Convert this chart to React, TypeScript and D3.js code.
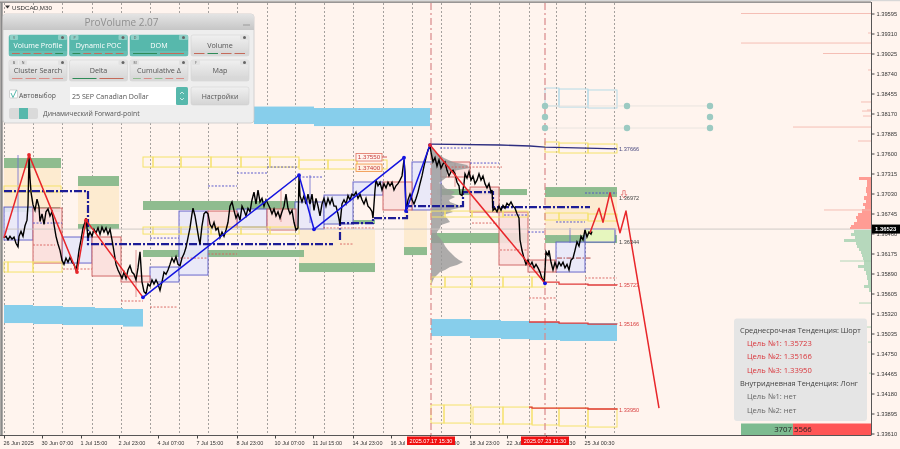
import React, { useEffect, useRef } from "react";
import * as d3 from "d3";

type Pt = [number, number];
type Box = [number, number, number, number]; // slot start, slot end, price top, price bottom
type Level = [number, number, number]; // slot start, slot end, price

// price axis
const priceTicks = [1.39595, 1.3931, 1.39025, 1.3874, 1.38455, 1.3817, 1.37885, 1.376, 1.37315, 1.3703, 1.36745, 1.3646, 1.36175, 1.3589, 1.35605, 1.3532, 1.35035, 1.3475, 1.34465, 1.3418, 1.33895, 1.3361];

// one slot = one column of the compressed M30 chart
const dayStarts = [0, 29, 58, 88, 117, 146, 175, 204, 233, 263, 291, 320, 349, 379, 408, 437, 466, 495, 525, 552, 581, 610];
const timeSlots = [0, 38, 77, 115, 154, 193, 233, 271, 309, 349, 387, 426, 466, 503, 542, 581];
const timeLabels = ["26 Jun 2025", "30 Jun 07:00", "1 Jul 15:00", "2 Jul 23:00", "4 Jul 07:00", "7 Jul 15:00", "8 Jul 23:00", "10 Jul 07:00", "11 Jul 15:00", "14 Jul 23:00", "16 Jul 07:00", "17 Jul 15:00", "18 Jul 23:00", "22 Jul 07:00", "23 Jul 15:30", "25 Jul 00:30"];

const closes: Pt[] = [
  [0,1.3640],[2,1.3642],[4,1.3637],[6,1.3642],[8,1.3638],[10,1.3641],[12,1.3632],[14,1.3627],[15,1.3642],[17,1.3649],[19,1.3642],[21,1.3657],[23,1.3665],[24,1.3687],[25,1.3756],[26,1.3725],[27,1.3705],[29,1.3687],[31,1.3679],[33,1.3695],[35,1.3684],[36,1.3663],[38,1.3674],[40,1.3659],[42,1.3677],[44,1.3681],[46,1.3671],[48,1.3677],[50,1.3659],[52,1.3642],[54,1.3631],[56,1.3622],[58,1.3608],[60,1.3602],[62,1.3611],[64,1.3605],[66,1.3612],[68,1.3605],[70,1.3602],[72,1.3594],[73,1.3600],[75,1.3622],[77,1.3637],[79,1.3654],[81,1.3662],[82,1.3668],[84,1.3640],[86,1.3648],[88,1.3642],[90,1.3652],[92,1.3647],[94,1.3654],[96,1.3645],[98,1.3655],[100,1.3648],[102,1.3654],[104,1.3645],[106,1.3652],[108,1.3637],[110,1.3620],[112,1.3602],[114,1.3594],[116,1.3588],[118,1.3582],[120,1.3591],[122,1.3582],[124,1.3594],[126,1.3600],[128,1.3591],[130,1.3588],[132,1.3580],[134,1.3597],[136,1.3620],[138,1.3577],[140,1.3563],[142,1.3560],[144,1.3574],[146,1.3571],[148,1.3580],[150,1.3574],[152,1.3580],[154,1.3574],[156,1.3565],[158,1.3577],[160,1.3591],[162,1.3588],[164,1.3594],[166,1.3602],[168,1.3611],[170,1.3605],[172,1.3613],[174,1.3602],[176,1.3600],[178,1.3611],[180,1.3617],[182,1.3626],[184,1.3640],[186,1.3654],[188,1.3674],[189,1.3682],[191,1.3671],[193,1.3654],[195,1.3637],[196,1.3631],[198,1.3657],[200,1.3674],[202,1.3677],[204,1.3674],[206,1.3659],[208,1.3654],[210,1.3662],[212,1.3651],[214,1.3654],[216,1.3640],[218,1.3648],[220,1.3642],[222,1.3651],[224,1.3662],[226,1.3685],[228,1.3691],[230,1.3679],[232,1.3668],[234,1.3674],[236,1.3665],[238,1.3685],[240,1.3679],[242,1.3671],[244,1.3682],[246,1.3677],[248,1.3694],[250,1.3705],[252,1.3688],[254,1.3708],[256,1.3691],[258,1.3696],[260,1.3685],[262,1.3694],[264,1.3688],[266,1.3682],[268,1.3674],[270,1.3681],[272,1.3671],[274,1.3677],[276,1.3668],[278,1.3677],[280,1.3685],[282,1.3702],[284,1.3682],[286,1.3674],[288,1.3679],[290,1.3662],[292,1.3651],[294,1.3654],[295,1.3728],[296,1.3700],[298,1.3691],[300,1.3700],[302,1.3688],[304,1.3702],[306,1.3688],[308,1.3702],[310,1.3679],[312,1.3696],[314,1.3685],[316,1.3671],[318,1.3688],[320,1.3696],[322,1.3685],[324,1.3696],[326,1.3688],[328,1.3696],[330,1.3685],[332,1.3685],[334,1.3674],[336,1.3659],[338,1.3688],[340,1.3694],[342,1.3688],[344,1.3700],[346,1.3694],[348,1.3702],[350,1.3700],[352,1.3705],[354,1.3696],[356,1.3702],[358,1.3694],[360,1.3688],[362,1.3696],[364,1.3685],[366,1.3682],[368,1.3677],[369,1.3668],[371,1.3708],[372,1.3722],[374,1.3714],[376,1.3719],[378,1.3708],[380,1.3717],[382,1.3711],[384,1.3719],[386,1.3714],[388,1.3719],[390,1.3708],[392,1.3714],[394,1.3717],[396,1.3722],[398,1.3728],[400,1.3751],[401,1.3734],[402,1.3677],[404,1.3694],[406,1.3702],[408,1.3694],[410,1.3688],[412,1.3696],[414,1.3705],[416,1.3717],[418,1.3728],[420,1.3742],[422,1.3754],[424,1.3765],[426,1.3771],[427,1.3762],[429,1.3748],[431,1.3754],[433,1.3742],[435,1.3751],[437,1.3739],[439,1.3745],[441,1.3748],[443,1.3736],[445,1.3728],[447,1.3734],[449,1.3736],[451,1.3731],[453,1.3719],[455,1.3714],[456,1.3702],[458,1.3700],[460,1.3717],[461,1.3731],[463,1.3725],[465,1.3734],[467,1.3722],[469,1.3728],[471,1.3717],[473,1.3722],[475,1.3731],[477,1.3722],[479,1.3728],[481,1.3717],[483,1.3711],[485,1.3717],[487,1.3705],[488,1.3708],[489,1.3679],[491,1.3682],[493,1.3677],[495,1.3685],[497,1.3679],[499,1.3686],[501,1.3682],[503,1.3689],[505,1.3686],[507,1.3691],[509,1.3685],[511,1.3682],[513,1.3674],[515,1.3668],[516,1.3637],[518,1.3622],[520,1.3611],[522,1.3602],[524,1.3608],[526,1.3600],[528,1.3605],[530,1.3597],[532,1.3602],[534,1.3597],[536,1.3591],[538,1.3582],[540,1.3577],[541,1.3594],[542,1.3620],[544,1.3615],[545,1.3622],[547,1.3605],[549,1.3594],[551,1.3605],[553,1.3597],[555,1.3605],[557,1.3600],[559,1.3605],[561,1.3597],[563,1.3602],[565,1.3594],[567,1.3608],[569,1.3611],[571,1.3622],[573,1.3634],[575,1.3628],[577,1.3642],[579,1.3637],[581,1.3651],[583,1.3641],[585,1.3648],[587,1.3645],[588,1.3649],
];

// zigzag swings
const redSwingsA: Pt[] = [[0,1.3640],[25,1.3758],[73,1.3591],[82,1.3665],[139,1.3555]];
const blueSwings: Pt[] = [[139,1.3555],[295,1.3729],[310,1.3652],[400,1.3754],[402,1.3678],[426,1.3772]];
const redSwingsB: Pt[] = [[426,1.3772],[541,1.3575]];
const forecast: Pt[] = [[586,1.3647],[595,1.3682],[599,1.3662],[606,1.3704],[616,1.3647],[622,1.3678],[655,1.3397]];

// zones
const skyZones: Box[] = [
  [0,29,1.35441,1.35184],[29,59,1.35427,1.3517],[59,91,1.35412,1.35156],[91,119,1.35398,1.35156],[119,139,1.35384,1.35134],
  [250,310,1.38269,1.3802],[310,426,1.38248,1.37991],
  [427,466,1.35241,1.34999],[466,497,1.35227,1.34971],[497,526,1.35213,1.34956],[526,556,1.35199,1.34942],[556,586,1.35184,1.34928],[586,613,1.35184,1.34928],
];
const tanZones: Box[] = [[0,57,1.37393,1.36837],[74,115,1.37137,1.36595],[295,371,1.3651,1.36039],[400,423,1.36795,1.36267],[541,613,1.3698,1.36438]];
const greenZones: Box[] = [
  [0,57,1.37536,1.37393],[74,115,1.37279,1.37137],[139,294,1.36923,1.36795],[139,300,1.36225,1.36125],[0,56,1.36837,1.36766],[74,115,1.36595,1.36524],
  [295,371,1.36039,1.35911],[323,371,1.36652,1.36595],[400,423,1.36267,1.36153],[427,523,1.36467,1.36324],[433,523,1.37094,1.37008],[541,613,1.37122,1.3698],[541,613,1.36438,1.36324],
];
const yellowBoxes: Box[] = [
  [139,149,1.3755,1.37407],[149,177,1.3755,1.37407],[177,207,1.3755,1.37407],[207,237,1.3755,1.37407],[237,266,1.3755,1.37407],[266,295,1.3755,1.37407],[295,324,1.37507,1.37379],[324,353,1.37507,1.37379],[353,383,1.37507,1.37379],
  [139,149,1.36552,1.36452],[149,177,1.36552,1.36452],[177,207,1.36552,1.36452],[207,237,1.36552,1.36452],[237,266,1.36552,1.36452],[266,295,1.36552,1.36452],
  [0,4,1.36054,1.35911],[4,29,1.36054,1.35911],[29,58,1.36054,1.35911],[0,57,1.37137,1.37051],
  [427,441,1.3584,1.35697],[441,468,1.3584,1.35697],[468,499,1.3584,1.35697],[499,528,1.3584,1.35697],[528,541,1.3584,1.35697],
  [427,441,1.3678,1.36695],[441,468,1.3678,1.36695],[468,499,1.3678,1.36695],[499,524,1.3678,1.36695],
  [541,555,1.37764,1.37621],[555,584,1.37749,1.37607],[584,613,1.37735,1.37607],
  [541,555,1.36752,1.36652],[555,584,1.36752,1.36652],[584,613,1.36738,1.36638],
  [427,440,1.34016,1.33759],[440,467,1.34016,1.33759],[469,499,1.33987,1.33745],[499,528,1.33987,1.33745],[528,555,1.33973,1.33731],[555,584,1.33973,1.33717],[584,613,1.33959,1.33702],
];
const skyBoxes: Box[] = [[541,555,1.38533,1.38277],[555,584,1.38519,1.38262],[584,613,1.38505,1.38248]];

// daily bodies
const blueBodies: Box[] = [[0,29,1.36837,1.36367],[58,88,1.3641,1.36039],[146,175,1.35982,1.35769],[175,204,1.3678,1.35868],[233,263,1.36809,1.36552],[291,320,1.36909,1.36524],[320,349,1.37008,1.36595],[349,379,1.37194,1.37008],[408,437,1.37479,1.36795],[552,581,1.36338,1.35911]];
const redBodies: Box[] = [[29,58,1.36823,1.36039],[88,117,1.3641,1.35854],[117,146,1.35854,1.35769],[204,233,1.3678,1.36552],[263,292,1.36809,1.3651],[379,408,1.37194,1.36795],[437,466,1.37479,1.37265],[466,495,1.37122,1.36766],[495,524,1.36766,1.36011],[524,552,1.36082,1.35911]];
const limeBodies: Box[] = [[581,611,1.36524,1.36338]];
const blueWicks: Pt[][] = [[[14,1.37578],[14,1.36267]],[[306,1.37293],[306,1.36609]],[[566,1.36538],[566,1.36325]]];
const redWicks: Pt[][] = [[[132,1.36225],[132,1.35555]],[[277,1.3708],[277,1.36624]],[[451,1.37465],[451,1.37125]]];

// pivots
const bluePivots: Level[] = [[29,58,1.36609],[146,175,1.36395],[204,233,1.37137],[233,263,1.37322],[263,294,1.37407],[295,319,1.37265],[466,495,1.37464],[500,523,1.36723],[552,581,1.36624],[581,613,1.37037],[524,541,1.36481],[436,466,1.37678]];
const redPivots: Level[] = [[29,51,1.36296],[59,88,1.35954],[117,139,1.35498],[146,174,1.35412],[176,203,1.3611],[204,233,1.36168],[319,371,1.36538],[437,498,1.37407],[468,493,1.36609],[496,523,1.36225],[525,552,1.35541],[581,613,1.35826],[336,349,1.3631]];
const darkRedPivots: Level[] = [[553,588,1.3611]];

// POC
const pocA: Pt[] = [[0,1.37065],[84,1.37065],[84,1.3631],[329,1.3631]];
const pocB: Pt[] = [[336,1.36367],[336,1.36609],[369,1.36609],[369,1.3668],[403,1.3668],[403,1.36851],[459,1.36851],[459,1.37051],[489,1.37051],[489,1.36837],[586,1.36837]];
const resistanceLine: Pt[] = [[427,1.37735],[496,1.37721],[526,1.37707],[541,1.37692],[613,1.37666]];

// targets
const target1: Pt[] = [[541,1.35768],[555,1.3574],[584,1.35726],[613,1.35723]];
const target2: Pt[] = [[525,1.35199],[555,1.35184],[584,1.3517],[613,1.35166]];
const target3: Pt[] = [[525,1.33987],[528,1.33973],[584,1.33959],[613,1.3395]];

const forwardSlots = [541, 623, 706];
const forwardPrices = [1.38277, 1.3812, 1.37963];

// volume profile of the marked range [price, volume]
const centerProfile: Pt[] = [[1.37678,1],[1.37621,4],[1.37578,9],[1.37536,13],[1.37479,22],[1.37436,36],[1.37393,39],[1.37336,16],[1.37265,16],[1.37222,12],[1.37179,8],[1.37151,12],[1.37108,14],[1.37051,24],[1.37008,20],[1.3698,24],[1.36937,18],[1.36909,19],[1.36866,27],[1.36837,32],[1.36795,19],[1.36766,22],[1.36723,12],[1.3668,16],[1.36624,19],[1.36581,10],[1.36538,9],[1.36481,6],[1.36438,6],[1.36395,9],[1.36338,12],[1.36282,14],[1.36225,17],[1.36182,20],[1.36125,24],[1.36082,28],[1.36054,32],[1.36011,26],[1.35982,19],[1.3594,14],[1.35911,9],[1.35868,6],[1.35826,3],[1.35754,1]];

// right-hand market profile
const sellProfile: Pt[] = [[1.37265,3],[1.37222,12],[1.37179,4],[1.37122,4],[1.3708,5],[1.37037,5],[1.36994,4],[1.36937,7],[1.36894,5],[1.36851,8],[1.36809,6],[1.36752,9],[1.36709,13],[1.36666,15],[1.36624,14],[1.36581,17],[1.36552,20],[1.36524,21]];
const buyProfile: Pt[] = [[1.3651,25],[1.36467,17],[1.36424,20],[1.36381,16],[1.36338,27],[1.36296,15],[1.36253,14],[1.3621,12],[1.36168,10],[1.36125,9],[1.36082,8],[1.36011,7],[1.35968,13],[1.35925,7],[1.35868,5],[1.35797,4],[1.35726,3],[1.35683,7],[1.35626,2],[1.35569,0]];
const sellSpikes: Pt[] = [[1.39595,130],[1.39317,3],[1.39174,130],[1.39025,48],[1.3879,3],[1.38334,10],[1.3822,4],[1.38205,9],[1.38134,8],[1.37977,78],[1.37778,13],[1.36795,47]];
const buySpikes: Pt[] = [[1.36068,31],[1.35469,12],[1.35127,7],[1.34913,3],[1.3447,2]];

const currentPrice = 1.36523;
const buyVolume = 3707;
const sellVolume = 5566;

const UI_FONT = "'Open Sans', 'Noto Sans', sans-serif";
const AXIS_FONT = "'Liberation Sans', Arial, sans-serif";

const x = d3.scaleLinear().domain([0, 610]).range([4, 614]);
const y = d3.scaleLinear().domain([1.39595, 1.3361]).range([13.5, 433.5]);
const volX = d3.scaleLinear().domain([0, 130]).range([871, 741]);
const profX = d3.scaleLinear().domain([0, 39]).range([431, 470]);
const balance = d3.scaleLinear().domain([0, buyVolume + sellVolume]).range([741, 871]);

const line = d3.line<Pt>().x(d => x(d[0])).y(d => y(d[1]));
const stepLine = d3.line<Pt>().x(d => x(d[0])).y(d => y(d[1])).curve(d3.curveStepAfter);
const centerArea = d3.area<Pt>().y(d => y(d[0])).x0(profX(0)).x1(d => profX(d[1]));
const rightArea = d3.area<Pt>().y(d => y(d[0])).x0(volX(0)).x1(d => volX(d[1])).curve(d3.curveStepAfter);

function Boxes({ rows, fill = "none", stroke = "none", width = 1, opacity = 1 }: { rows: Box[]; fill?: string; stroke?: string; width?: number; opacity?: number }) {
  return (
    <g fill={fill} stroke={stroke} strokeWidth={width} opacity={opacity}>
      {rows.map((d, i) => (
        <rect key={i} x={x(d[0])} y={y(d[2])} width={x(d[1]) - x(d[0])} height={y(d[3]) - y(d[2])} />
      ))}
    </g>
  );
}

function Levels({ rows, stroke, dash = "2 1.5" }: { rows: Level[]; stroke: string; dash?: string }) {
  return (
    <g stroke={stroke} strokeWidth={0.9} strokeDasharray={dash}>
      {rows.map((d, i) => (
        <line key={i} x1={x(d[0])} x2={x(d[1])} y1={y(d[2])} y2={y(d[2])} />
      ))}
    </g>
  );
}

function Markers({ points, fill }: { points: Pt[]; fill: string }) {
  return (
    <g fill={fill}>
      {points.map((d, i) => (
        <circle key={i} cx={x(d[0])} cy={y(d[1])} r={1.9} />
      ))}
    </g>
  );
}

function PriceTag({ price, color, text }: { price: number; color: string; text: string }) {
  return (
    <text x={619} y={y(price) + 2} fontSize={5.6} fill={color} fontFamily={AXIS_FONT}>
      {text}
    </text>
  );
}

function PanelButton({ bx, by, label, on, tags, marks }: { bx: number; by: number; label: string; on?: boolean; tags: string[]; marks: string[] }) {
  const w = 58;
  const h = 21;
  return (
    <g>
      <rect x={bx} y={by} width={w} height={h} rx={2} fill={on ? "#57B8AC" : "url(#btnGrey)"} stroke={on ? "#57B8AC" : "#CFCFCF"} strokeWidth={0.5} />
      {tags.map((t, i) => (
        <g key={i}>
          <rect x={bx + 1 + i * 9} y={by} width={8} height={5} rx={1} fill={on ? "#8ED0C7" : "#E2E2E2"} />
          <text x={bx + 5 + i * 9} y={by + 4} fontSize={3.6} textAnchor="middle" fill="#555" fontFamily={UI_FONT}>{t}</text>
        </g>
      ))}
      <rect x={bx + w - 9} y={by} width={9} height={5} rx={1} fill={on ? "#8ED0C7" : "#E2E2E2"} />
      <circle cx={bx + w - 4.5} cy={by + 2.5} r={1.5} fill="#666" />
      <text x={bx + w / 2} y={by + 13} fontSize={7.2} textAnchor="middle" fill={on ? "#FFFFFF" : "#555"} fontFamily={UI_FONT}>{label}</text>
      <rect x={bx} y={by + h - 5} width={w} height={5} rx={1} fill={on ? "#68BFB4" : "#D8D8D8"} opacity={0.9} />
      {marks.map((c, i) => (
        <rect key={i} x={bx + 2 + (i * (w - 4)) / marks.length + 1} y={by + h - 3} width={(w - 4) / marks.length - 3} height={1} fill={c} />
      ))}
    </g>
  );
}

function ProVolumePanel() {
  return (
    <g>
      <rect x={3} y={14} width={251} height={109} rx={3} fill="#EEEEEE" stroke="#C9C9C9" strokeWidth={0.8} />
      <path d="M3,30V17a3,3 0 0 1 3,-3H251a3,3 0 0 1 3,3V30Z" fill="url(#headGrey)" />
      <text x={121.5} y={26} fontSize={10} textAnchor="middle" fill="#8F8F8F" fontFamily={UI_FONT}>ProVolume 2.07</text>
      <rect x={243} y={24.5} width={7} height={1} fill="#9A9A9A" />
      <PanelButton bx={9} by={35} label="Volume Profile" on tags={["V"]} marks={["#C46A5A", "#C46A5A", "#C46A5A", "#C46A5A", "#2E8B57"]} />
      <PanelButton bx={69.5} by={35} label="Dynamic POC" on tags={["P"]} marks={["#2E8B57", "#C46A5A", "#C46A5A", "#C46A5A", "#C46A5A"]} />
      <PanelButton bx={130} by={35} label="DOM" on tags={["D"]} marks={["#2E8B57", "#C46A5A"]} />
      <PanelButton bx={191} by={35} label="Volume" tags={[]} marks={["#C46A5A", "#2E8B57", "#C46A5A", "#C46A5A"]} />
      <PanelButton bx={9} by={60} label="Cluster Search" tags={["B", "N"]} marks={["#D98C86", "#D98C86", "#D98C86", "#D98C86"]} />
      <PanelButton bx={69.5} by={60} label="Delta" tags={[]} marks={["#2E8B57", "#C46A5A"]} />
      <PanelButton bx={130} by={60} label="Cumulative Δ" tags={["M"]} marks={["#8FBC8F", "#D98C86", "#8FBC8F", "#D98C86", "#D98C86"]} />
      <PanelButton bx={191} by={60} label="Map" tags={["F"]} marks={[]} />
      <rect x={9.5} y={90} width={8} height={8} rx={1} fill="#FFFFFF" stroke="#BBBBBB" strokeWidth={0.6} />
      <path d="M11,93L13,97.5L16.5,90" fill="none" stroke="#57B8AC" strokeWidth={1} />
      <text x={19} y={98} fontSize={6.8} fill="#555" fontFamily={UI_FONT}>Автовыбор</text>
      <rect x={70} y={87} width={106} height={18} fill="#FFFFFF" />
      <text x={72} y={98.5} fontSize={7.1} fill="#555" fontFamily={UI_FONT}>25 SEP Canadian Dollar</text>
      <rect x={176} y={87} width={12} height={18} rx={1.5} fill="#57B8AC" />
      <path d="M180,94l2,-2l2,2M180,98l2,2l2,-2" fill="none" stroke="#FFFFFF" strokeWidth={0.7} />
      <rect x={191} y={87} width={58} height={18} rx={2} fill="url(#btnGrey)" stroke="#CFCFCF" strokeWidth={0.5} />
      <text x={220} y={98.5} fontSize={7} textAnchor="middle" fill="#555" fontFamily={UI_FONT}>Настройки</text>
      <rect x={9} y={108} width={29} height={11} rx={2} fill="#DADADA" />
      <rect x={19} y={108} width={9} height={11} fill="#57B8AC" />
      <text x={43} y={116} fontSize={6.8} fill="#555" fontFamily={UI_FONT}>Динамический Forward-point</text>
    </g>
  );
}

function TrendBox() {
  const dark = "#444444";
  const red = "#D9343A";
  const grey = "#666666";
  return (
    <g fontFamily={UI_FONT} fontSize={7.35}>
      <rect x={734} y={318.5} width={133} height={102.5} rx={3} fill="#E5E5E5" />
      <text x={740} y={332.5} fill={dark}>Среднесрочная Тенденция: Шорт</text>
      <text x={747} y={346} fontSize={7.6} fill={red}>Цель №1: 1.35723</text>
      <text x={747} y={359} fontSize={7.6} fill={red}>Цель №2: 1.35166</text>
      <text x={747} y={372.5} fontSize={7.6} fill={red}>Цель №3: 1.33950</text>
      <text x={740} y={386} fill={dark}>Внутридневная Тенденция: Лонг</text>
      <text x={747} y={399} fontSize={7.6} fill={grey}>Цель №1: нет</text>
      <text x={747} y={412.5} fontSize={7.6} fill={grey}>Цель №2: нет</text>
    </g>
  );
}

export default function App() {
  const yAxisRef = useRef<SVGGElement | null>(null);
  const xAxisRef = useRef<SVGGElement | null>(null);

  useEffect(() => {
    const yAxis = d3.axisRight(y).tickValues(priceTicks).tickSize(3).tickPadding(2).tickFormat(d => (+d).toFixed(5));
    const yG = d3.select(yAxisRef.current);
    yG.call(yAxis as any);
    yG.selectAll("text").attr("font-size", 5.7).attr("font-family", AXIS_FONT).attr("fill", "#333");
    yG.selectAll("line").attr("stroke", "#444");
    yG.select(".domain").remove();

    const xAxis = d3.axisBottom(x).tickValues(timeSlots).tickSize(3).tickFormat((_, i) => timeLabels[i]);
    const xG = d3.select(xAxisRef.current);
    xG.call(xAxis as any);
    xG.selectAll("text").attr("font-size", 5.5).attr("font-family", AXIS_FONT).attr("fill", "#333").attr("text-anchor", "start").attr("y", 6).attr("dx", -1);
    xG.selectAll("line").attr("stroke", "#444");
    xG.select(".domain").remove();
  }, []);

  return (
    <svg width={900} height={449} style={{ position: "absolute", left: 0, top: 0, display: "block", filter: "blur(0.25px)" }} fontFamily={AXIS_FONT}>
      <defs>
        <linearGradient id="btnGrey" x1="0" y1="0" x2="0" y2="1">
          <stop offset="0" stopColor="#F0F0F0" />
          <stop offset="1" stopColor="#D4D4D4" />
        </linearGradient>
        <linearGradient id="headGrey" x1="0" y1="0" x2="0" y2="1">
          <stop offset="0" stopColor="#E4E4E4" />
          <stop offset="1" stopColor="#C6C6C6" />
        </linearGradient>
      </defs>
      <rect width={900} height={449} fill="#FFF4EE" />

      <g stroke="#666" strokeWidth={0.6} strokeDasharray="2 2">
        {dayStarts.map(d => (
          <line key={d} x1={x(d) + 0.5} x2={x(d) + 0.5} y1={3} y2={435} />
        ))}
      </g>

      <Boxes rows={skyZones} fill="#87CEEB" />
      <Boxes rows={tanZones} fill="#FDEBD0" />
      <Boxes rows={greenZones} fill="#8FBC8F" />

      <Boxes rows={blueBodies} fill="#E8E8FA" stroke="#5B5BC8" opacity={0.9} />
      <Boxes rows={redBodies} fill="#FBDFDD" stroke="#CD5C5C" opacity={0.9} />
      <Boxes rows={limeBodies} fill="#E6F6BE" stroke="#5B5BC8" />
      <g stroke="#6A6AD0" strokeWidth={0.8}>
        {blueWicks.map((d, i) => <path key={i} d={line(d) as string} />)}
      </g>
      <g stroke="#D88080" strokeWidth={0.8}>
        {redWicks.map((d, i) => <path key={i} d={line(d) as string} />)}
      </g>

      <path d={centerArea(centerProfile) as string} fill="#999" opacity={0.8} />

      <Boxes rows={yellowBoxes} stroke="#F5E26A" width={1} />
      <Boxes rows={skyBoxes} stroke="#ADD8E6" width={0.9} />

      <Levels rows={bluePivots} stroke="#4B4BC8" />
      <Levels rows={redPivots} stroke="#D8605C" />
      <Levels rows={darkRedPivots} stroke="#A83232" dash="5 1.5 1.5 1.5" />

      <g fill="none" stroke="#1C1C96" strokeWidth={2.2} strokeDasharray="8 2 2 2">
        <path d={line(pocA) as string} />
        <path d={line(pocB) as string} />
      </g>
      <path d={line(resistanceLine) as string} fill="none" stroke="#2E2E80" strokeWidth={1.3} />

      <g fill="none" stroke="#D9888A" strokeWidth={1.2} strokeDasharray="7 3 2 3">
        <line x1={x(427)} x2={x(427)} y1={3} y2={435} />
        <line x1={x(541)} x2={x(541)} y1={3} y2={435} />
      </g>

      <g fill="none" stroke="#E03A3A" strokeWidth={1.3}>
        <path d={stepLine(target1) as string} />
        <path d={stepLine(target2) as string} />
        <path d={stepLine(target3) as string} />
      </g>

      <line x1={3} x2={871} y1={y(currentPrice)} y2={y(currentPrice)} stroke="#C9C5C2" strokeWidth={0.9} />

      <path d={line(closes) as string} fill="none" stroke="#000" strokeWidth={1.4} />

      <g fill="none" strokeWidth={1.5} strokeLinejoin="round">
        <path d={line(redSwingsA) as string} stroke="#E8262A" />
        <path d={line(blueSwings) as string} stroke="#1414E0" />
        <path d={line(redSwingsB) as string} stroke="#E8262A" />
        <path d={line(forecast) as string} stroke="#E8262A" />
      </g>
      <Markers points={redSwingsA.slice(1, 4)} fill="#E8262A" />
      <Markers points={blueSwings} fill="#1414E0" />
      <Markers points={[redSwingsB[0]]} fill="#E8262A" />
      <Markers points={[redSwingsB[1]]} fill="#1414E0" />

      <g stroke="#E6E2DE" strokeWidth={0.9}>
        <line x1={x(forwardSlots[0])} x2={x(forwardSlots[2])} y1={y(forwardPrices[0])} y2={y(forwardPrices[0])} />
        <line x1={x(forwardSlots[0])} x2={x(forwardSlots[2])} y1={y(forwardPrices[2])} y2={y(forwardPrices[2])} />
      </g>
      <g fill="#9CCAC2">
        {forwardSlots.map(s => forwardPrices.map((p, i) =>
          s === forwardSlots[1] && i === 1 ? null : <circle key={`${s}-${i}`} cx={x(s)} cy={y(p)} r={3.2} />
        ))}
      </g>

      <g transform={`translate(${x(620)},${y(1.37015)})`} fill="none" stroke="#E06060" strokeWidth={0.7}>
        <path d="M-1.2,-4H1.2V0H2.8L0,3.5L-2.8,0H-1.2Z" />
      </g>

      <PriceTag price={1.37666} color="#4A4A80" text="1.37666" />
      <PriceTag price={1.36972} color="#444" text="1.36972" />
      <PriceTag price={1.36344} color="#444" text="1.36344" />
      <PriceTag price={1.35723} color="#D84040" text="1.35723" />
      <PriceTag price={1.35166} color="#D84040" text="1.35166" />
      <PriceTag price={1.3395} color="#D84040" text="1.33950" />

      <g fontSize={6.2} textAnchor="middle">
        <line x1={x(378)} x2={x(383)} y1={y(1.3755)} y2={y(1.3755)} stroke="#D86060" />
        <rect x={356} y={y(1.3755) - 3.5} width={26} height={7.5} fill="#FFF4EE" stroke="#E07060" strokeWidth={0.8} />
        <text x={369} y={y(1.3755) + 2.3} fill="#C84040">1.37550</text>
        <rect x={356} y={y(1.374) - 3.5} width={26} height={7.5} fill="#FFF0E0" stroke="#F09040" strokeWidth={0.8} />
        <text x={369} y={y(1.374) + 2.3} fill="#C84040">1.37400</text>
      </g>

      <path d={rightArea(sellProfile) as string} fill="#FF9C94" />
      <path d={rightArea(buyProfile) as string} fill="#B6D8BC" />
      <g stroke="#F4B8AE" strokeWidth={0.9}>
        {sellSpikes.map((d, i) => <line key={i} x1={volX(d[1])} x2={volX(0)} y1={y(d[0])} y2={y(d[0])} />)}
      </g>
      <g stroke="#A9D2B0" strokeWidth={0.9}>
        {buySpikes.map((d, i) => <line key={i} x1={volX(d[1])} x2={volX(0)} y1={y(d[0])} y2={y(d[0])} />)}
      </g>

      <TrendBox />
      <rect x={balance(0)} y={423.5} width={balance(buyVolume) - balance(0)} height={11.5} fill="#7DBB90" />
      <rect x={balance(buyVolume)} y={423.5} width={balance(buyVolume + sellVolume) - balance(buyVolume)} height={11.5} fill="#FF5555" />
      <text x={balance(buyVolume) - 1} y={432} fontSize={7.8} textAnchor="end" fill="#222" fontFamily={UI_FONT}>{buyVolume}</text>
      <text x={balance(buyVolume) + 1} y={432} fontSize={7.8} fill="#222" fontFamily={UI_FONT}>{sellVolume}</text>

      <rect x={0} y={0} width={900} height={1.2} fill="#D8D8D8" />
      <line x1={0} x2={871} y1={2.2} y2={2.2} stroke="#777" strokeWidth={1.2} />
      <line x1={1.5} x2={1.5} y1={2} y2={435} stroke="#8A8A8A" strokeWidth={2.4} />
      <line x1={871.5} x2={871.5} y1={2} y2={435} stroke="#444" strokeWidth={0.9} />
      <line x1={0} x2={871.5} y1={435.5} y2={435.5} stroke="#444" strokeWidth={0.9} />
      <g ref={yAxisRef} transform="translate(871.5,0)" />
      <g ref={xAxisRef} transform="translate(0,435.5)" />

      <path d="M5,5.5H10L7.5,8.5Z" fill="#333" />
      <text x={12} y={9.5} fontSize={6.2} fill="#333">USDCAD,M30</text>

      <ProVolumePanel />

      <rect x={872} y={y(currentPrice) - 4.5} width={28} height={9} fill="#000" />
      <text x={875} y={y(currentPrice) + 2.2} fontSize={5.9} fontWeight="bold" fill="#FFF">{currentPrice.toFixed(5)}</text>

      <g fontSize={5.5} fill="#FFF" textAnchor="middle">
        <rect x={407} y={436.5} width={48} height={8.5} fill="#F01010" />
        <text x={431} y={443}>2025.07.17 15:30</text>
        <rect x={521} y={436.5} width={48} height={8.5} fill="#F01010" />
        <text x={545} y={443}>2025.07.23 11:30</text>
      </g>
    </svg>
  );
}
